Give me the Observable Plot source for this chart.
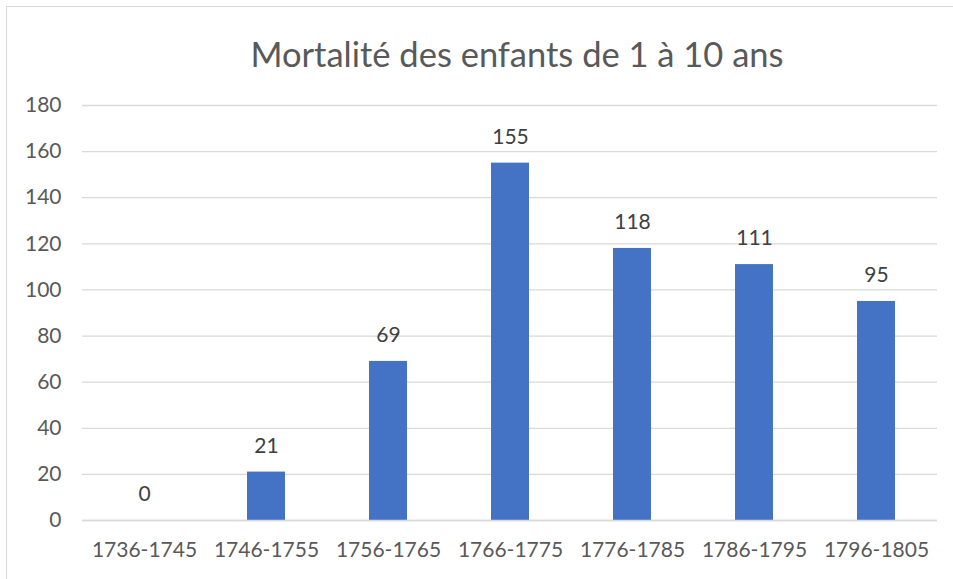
<!DOCTYPE html>
<html>
<head>
<meta charset="utf-8">
<script src="https://cdn.jsdelivr.net/npm/d3@7"></script>
<script src="https://cdn.jsdelivr.net/npm/@observablehq/plot@0.6"></script>
<style>
  html, body { margin: 0; padding: 0; background: #fff; }
  #wrap { position: relative; width: 953px; height: 579px; overflow: hidden; font-family: Lato, "Open Sans", sans-serif; }
  #frame { position: absolute; left: 6px; top: 6px; width: 960px; height: 600px; border: 1.5px solid #d9d9d9; box-sizing: border-box; }
  #title { position: absolute; left: 0; top: 0; width: 953px; height: 90px; }
  #title span { position: absolute; left: 517px; top: 53px; transform: translate(-50%, -50%); font-size: 34.5px; color: #595959; white-space: nowrap; }
  #chart { position: absolute; left: 0; top: 90px; }
</style>
</head>
<body>
<div id="wrap">
  <div id="frame"></div>
  <div id="title"><span>Mortalité des enfants de 1 à 10 ans</span></div>
  <div id="chart"></div>
</div>
<script>
const periods = ["1736-1745", "1746-1755", "1756-1765", "1766-1775", "1776-1785", "1786-1795", "1796-1805"];
const deaths = [0, 21, 69, 155, 118, 111, 95];
const yTicks = [0, 20, 40, 60, 80, 100, 120, 140, 160, 180];

const data = periods.map((p, i) => ({period: p, value: deaths[i]}));

const plot = Plot.plot({
  width: 953,
  height: 489,
  marginTop: 15,
  marginBottom: 59,
  marginLeft: 82,
  marginRight: 16,
  style: {fontFamily: "Lato, 'Open Sans', sans-serif", fontSize: "21px", color: "#595959", background: "transparent"},
  x: {domain: periods, paddingInner: 0.69, paddingOuter: 0.345, label: null},
  y: {domain: [0, 180], label: null},
  marks: [
    Plot.gridY(yTicks, {stroke: "#d9d9d9", strokeOpacity: 1, strokeWidth: 1.3}),
    Plot.barY(data, {x: "period", y: "value", fill: "#4472c4"}),
    Plot.ruleY([0], {stroke: "#d9d9d9", strokeWidth: 1.5}),
    Plot.axisY(yTicks, {tickSize: 0, tickPadding: 21, fontSize: 21, fill: "#595959"}),
    Plot.axisX({tickSize: 0, tickPadding: 22, fontSize: 21, fill: "#595959"}),
    Plot.text(data, {x: "period", y: "value", text: d => String(d.value), dy: -26, fontSize: 21, fill: "#404040"})
  ]
});
document.getElementById("chart").appendChild(plot);
</script>
</body>
</html>
